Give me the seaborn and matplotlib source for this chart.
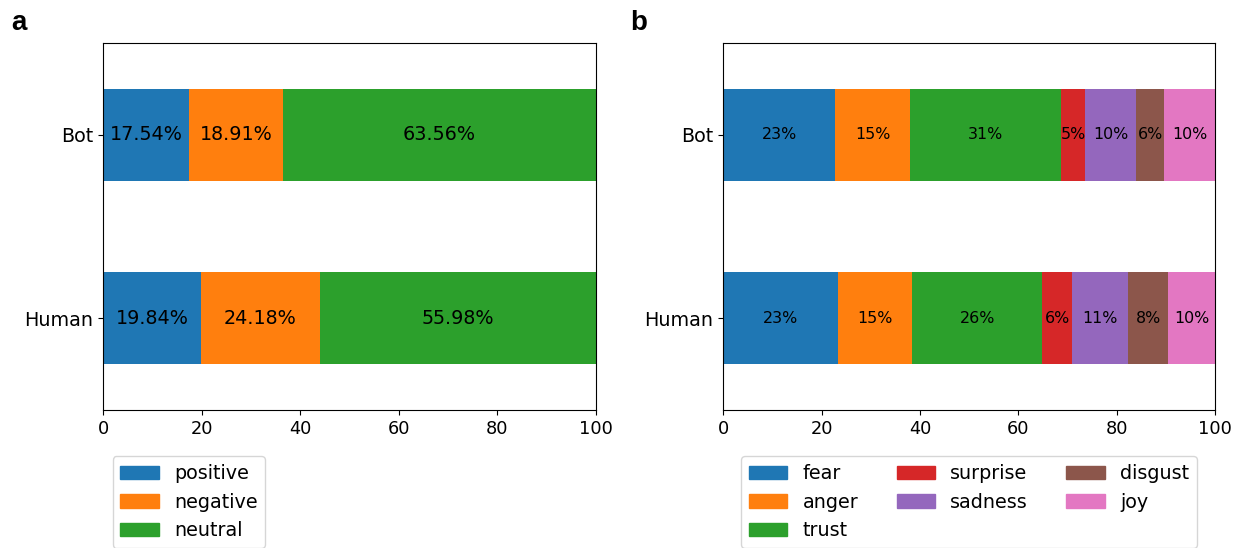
import matplotlib.pyplot as plt
from matplotlib.patches import Patch
import numpy as np
import pandas as pd
import seaborn as sns

groups = ["Bot", "Human"]

sentiments = ["positive", "negative", "neutral"]
sent_bot = [17.54, 18.91, 63.56]
sent_human = [19.84, 24.18, 55.98]

emotions = ["fear", "anger", "trust", "surprise", "sadness", "disgust", "joy"]
emo_bot = [22.74, 15.27, 30.75, 4.89, 10.38, 5.6, 10.37]
emo_human = [23.35, 15.07, 26.4, 6.17, 11.4, 8.1, 9.51]

colors = sns.color_palette("tab10")

plt.rcParams["font.size"] = 13.8
plt.rcParams["xtick.labelsize"] = 12.8


def stacked(ax, cats, bot, human, fmt, fs):
    df = pd.DataFrame([bot, human], index=groups, columns=cats)
    cum = df.cumsum(axis=1)
    # draw cumulative bars from the longest to the shortest so they stack
    for i in reversed(range(len(cats))):
        sns.barplot(x=cum[cats[i]].values, y=groups, order=groups, orient="h",
                    color=colors[i], saturation=1, width=0.5, errorbar=None, ax=ax)
    for j, g in enumerate(groups):
        start = 0
        for c in cats:
            v = df.loc[g, c]
            ax.text(start + v / 2, j, fmt % v, ha="center", va="center", fontsize=fs)
            start += v
    ax.set_xlim(0, 100)
    ax.set_xlabel("")
    ax.set_ylabel("")
    for s in ax.spines.values():
        s.set_visible(True)


fig = plt.figure(figsize=(12.44, 5.48), dpi=100)
ax1 = fig.add_axes([0.0828, 0.2518, 0.3963, 0.6697])
ax2 = fig.add_axes([0.5814, 0.2518, 0.3953, 0.6697])

stacked(ax1, sentiments, sent_bot, sent_human, "%.2f%%", 13.8)
stacked(ax2, emotions, emo_bot, emo_human, "%.0f%%", 11.4)

h1 = [Patch(color=colors[i], label=c) for i, c in enumerate(sentiments)]
ax1.legend(handles=h1, loc="upper left", bbox_to_anchor=(0, -0.1))
h2 = [Patch(color=colors[i], label=c) for i, c in enumerate(emotions)]
ax2.legend(handles=h2, loc="upper center", bbox_to_anchor=(0.5, -0.1), ncol=3)

fig.text(0.009, 0.945, "a", fontsize=20, fontweight="bold", family="Liberation Sans")
fig.text(0.507, 0.945, "b", fontsize=20, fontweight="bold", family="Liberation Sans")

fig.savefig("out.png", dpi=100)
